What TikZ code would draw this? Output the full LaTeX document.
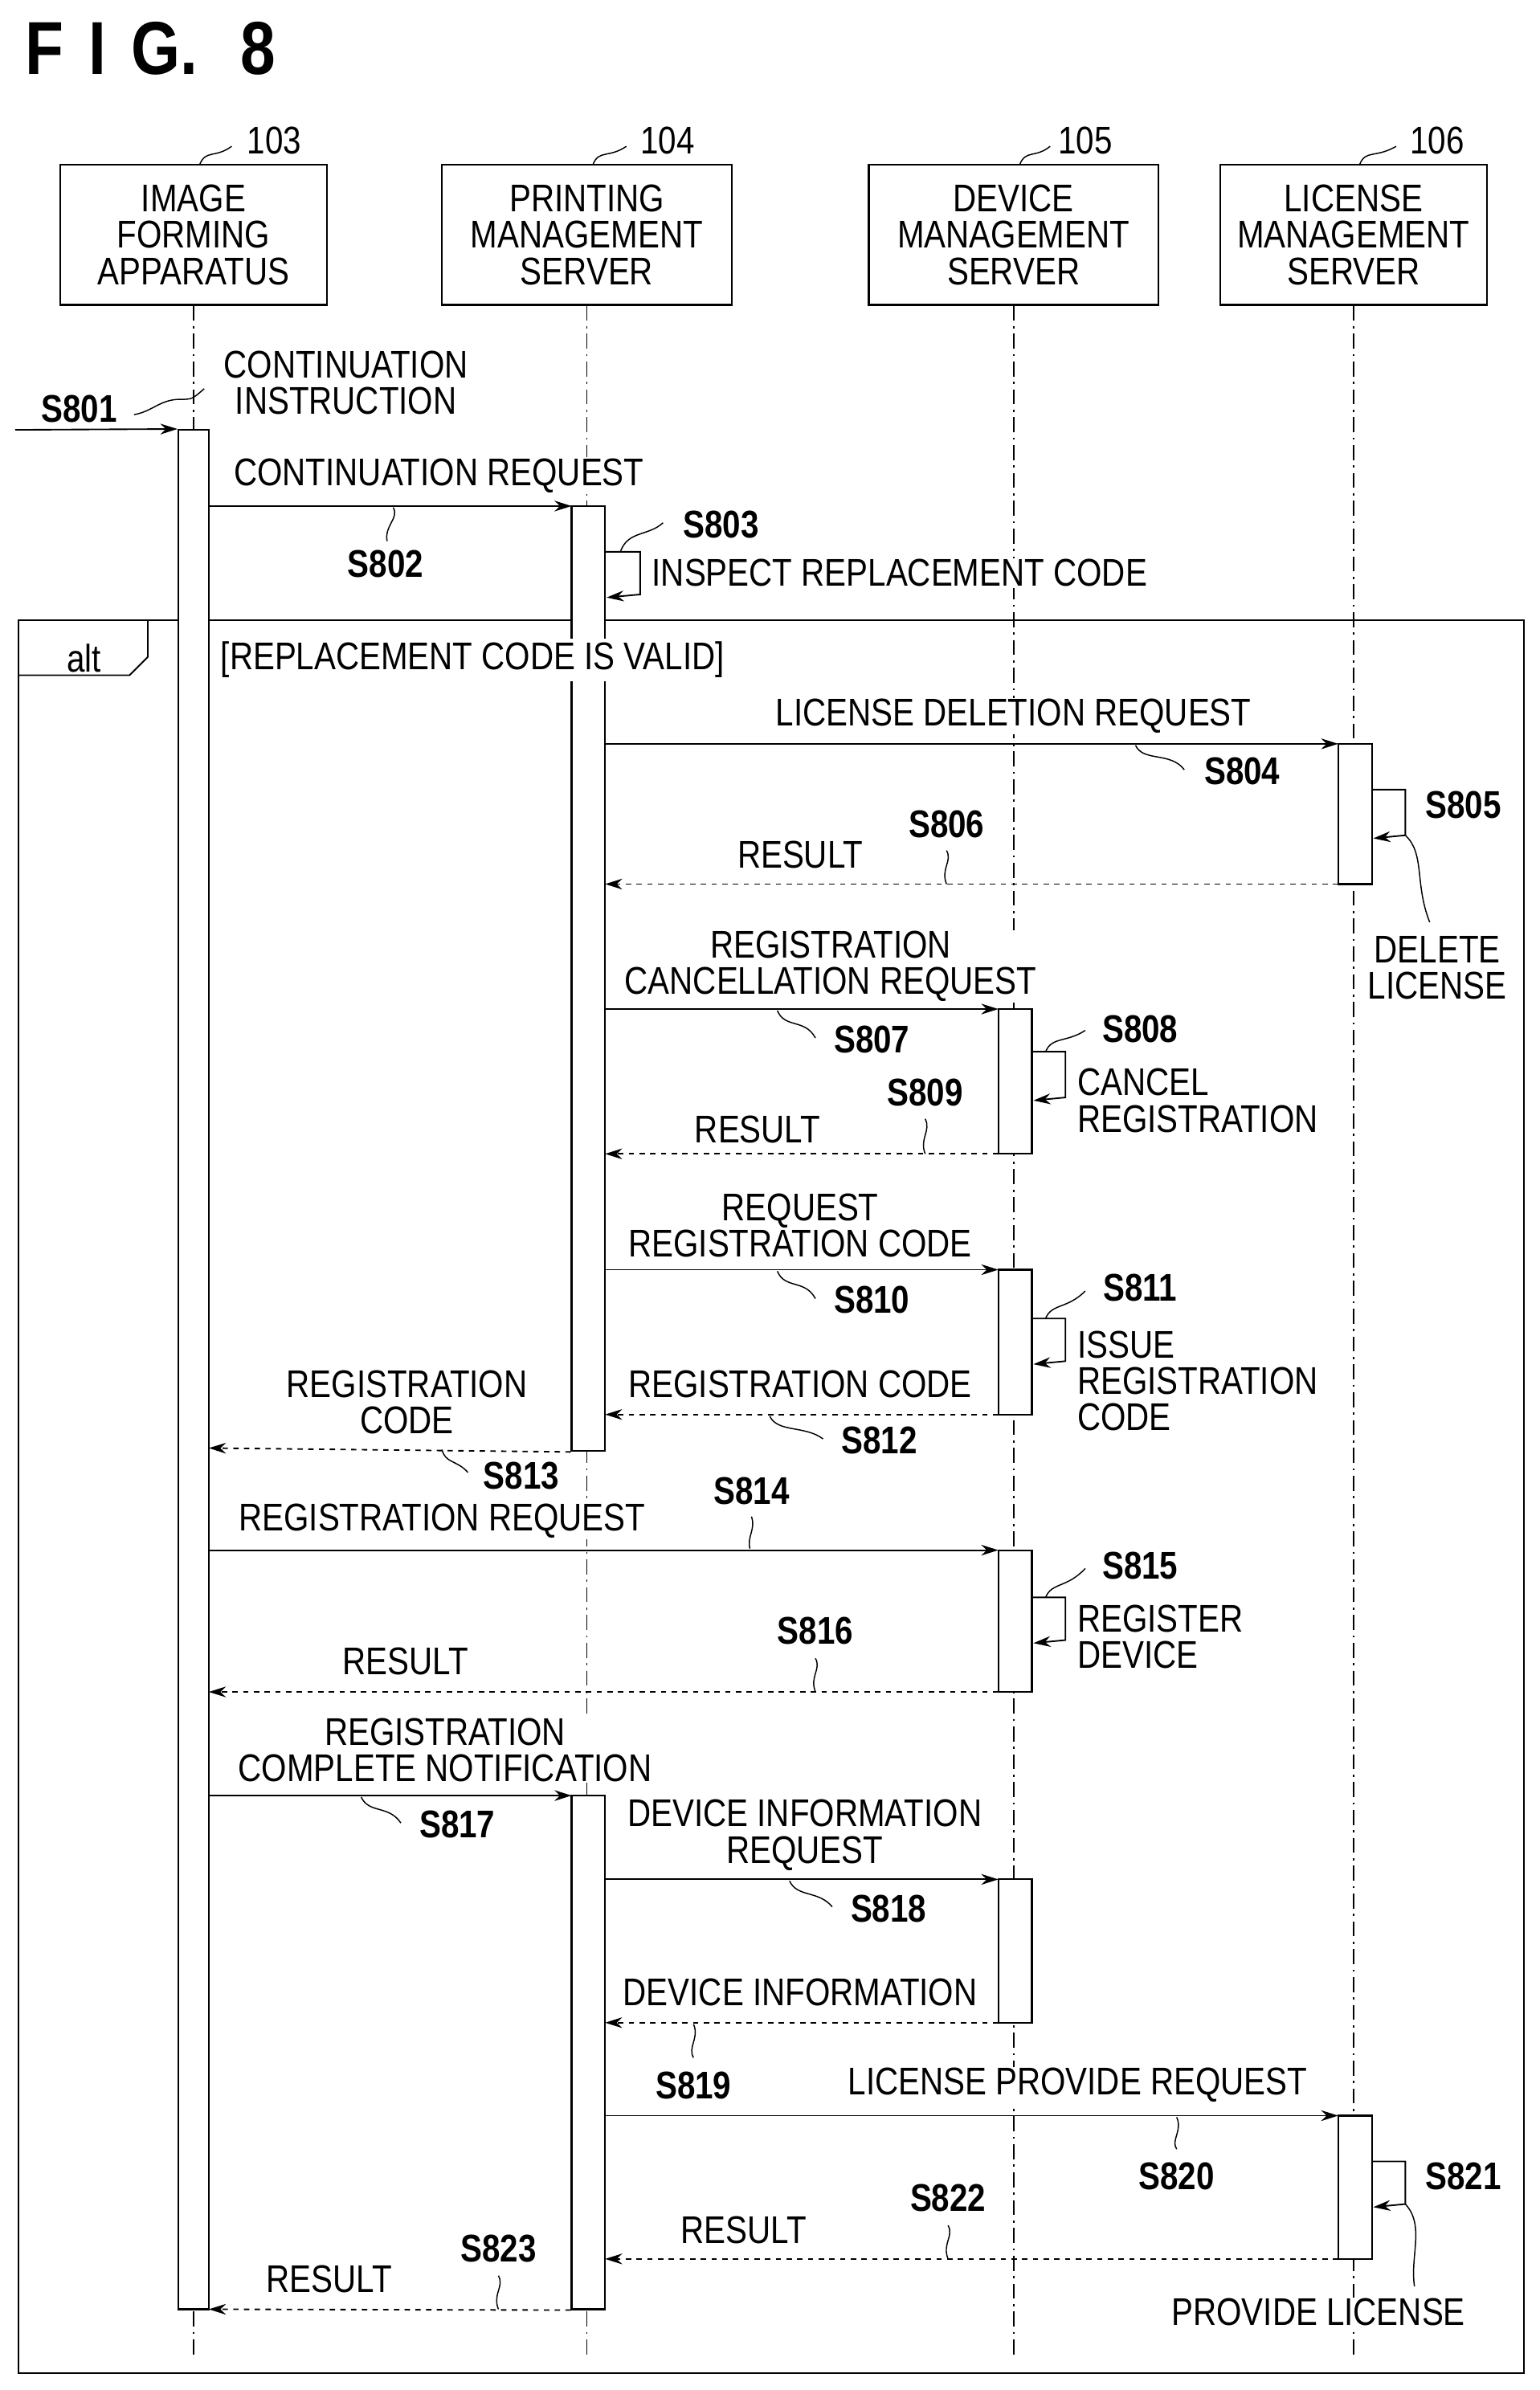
\documentclass[tikz,border=0pt]{standalone}
\usepackage{fontspec}
\setmainfont{Liberation Sans}[FakeStretch=0.84]
\usetikzlibrary{arrows.meta}
\begin{document}
\begin{tikzpicture}[x=0.5mm,y=-0.5mm,
  every node/.style={font=\fontsize{36}{38}\selectfont, inner sep=1pt, align=center},
  txt/.style={fill=white},
  box/.style={draw, line width=1.6pt, fill=white},
  bar/.style={draw, line width=1.6pt, fill=white, inner sep=0pt},
  life/.style={line width=1.2pt, dash pattern=on 14pt off 5pt on 2pt off 5pt},
  msg/.style={line width=1.4pt, -{Stealth[length=16pt,width=10pt]}},
  ret/.style={msg, dash pattern=on 5pt off 5pt},
  lead/.style={line width=1.1pt},
  lbl/.style={fill=white, font=\bfseries\fontsize{36}{38}\selectfont},
  tag/.style={fill=white, font=\fontsize{36}{38}\selectfont}]
\useasboundingbox (0,0) rectangle (1010,1568);
\node[anchor=west, font=\bfseries\fontsize{70}{72}\selectfont] (title) at (16,32) {F\,\,I\,\,G.\,\, 8};
% lifeline heads
\node[box, minimum width=175*0.5mm, minimum height=92*0.5mm] (h103) at (127,154) {IMAGE\\[-4pt]FORMING\\[-4pt]APPARATUS};
\node[box, minimum width=190*0.5mm, minimum height=92*0.5mm] (h104) at (385,154) {PRINTING\\[-4pt]MANAGEMENT\\[-4pt]SERVER};
\node[box, minimum width=190*0.5mm, minimum height=92*0.5mm] (h105) at (665,154) {DEVICE\\[-4pt]MANAGEMENT\\[-4pt]SERVER};
\node[box, minimum width=175*0.5mm, minimum height=92*0.5mm] (h106) at (888,154) {LICENSE\\[-4pt]MANAGEMENT\\[-4pt]SERVER};
\node[tag] (n103) at (180,92) {103};
\node[tag] (n104) at (438,92) {104};
\node[tag] (n105) at (712,92) {105};
\node[tag] (n106) at (943,92) {106};
\foreach \a/\b in {127/152,385/411,665/689,888/916}{
  \draw[lead] (\a+4,108) .. controls (\a+8,98) and (\a+14,104) .. (\b,96);}
% lifelines
\foreach \n/\x in {103/127,104/385,105/665,106/888}{
  \coordinate (e\n) at (\x,1545);
  \draw[life] (h\n.south) -- (e\n);}
% alt frame
\draw[line width=1.6pt] (12,407) rectangle (1000,1557);
\draw[line width=1.4pt] (12,443) -- (85,443) -- (97,431) -- (97,407);
% activation bars
\node[bar, minimum width=20*0.5mm, minimum height=1233*0.5mm] (a103) at (127,898.5) {};
\node[bar, minimum width=22*0.5mm, minimum height=620*0.5mm] (a104) at (386,642) {};
\node[bar, minimum width=22*0.5mm, minimum height=337*0.5mm] (b104) at (386,1346.5) {};
\node[bar, minimum width=22*0.5mm, minimum height=95*0.5mm] (a105) at (666,709.5) {};
\node[bar, minimum width=22*0.5mm, minimum height=95*0.5mm] (b105) at (666,880.5) {};
\node[bar, minimum width=22*0.5mm, minimum height=93*0.5mm] (c105) at (666,1063.5) {};
\node[bar, minimum width=22*0.5mm, minimum height=94*0.5mm] (d105) at (666,1280) {};
\node[bar, minimum width=22*0.5mm, minimum height=92*0.5mm] (a106) at (889,534) {};
\node[bar, minimum width=22*0.5mm, minimum height=94*0.5mm] (b106) at (889,1435) {};
\node[txt] (alt) at (55,432) {alt};
\node[txt, inner sep=3pt] (guard) at (310,433) {[REPLACEMENT CODE IS VALID]};
% S801
\coordinate (start) at (10,282);
\draw[msg] (start) -- (a103.north west);
\node[lbl] (s801) at (52,268) {S801};
\draw[lead] (88,272) .. controls (100,270) and (105,262) .. (118,262) .. controls (126,262) .. (134,255);
\node[txt, anchor=west] (ci) at (146,251) {CONTINUATION\\[-4pt]INSTRUCTION};
% S802
\draw[msg] (137,332) -- (375,332);
\node[txt] (t802) at (288,312) {CONTINUATION REQUEST};
\node[lbl] (s802) at (253,370) {S802};
\draw[lead] (258,333) .. controls (262,340) and (252,345) .. (254,355);
% S803 loop
\draw[msg] (397,362) -- (420,362) -- (420,390) -- (398,392);
\node[lbl] (s803) at (473,344) {S803};
\draw[lead] (407,362) .. controls (412,348) and (425,352) .. (435,343);
\node[txt, anchor=west] (t803) at (427,376) {INSPECT REPLACEMENT CODE};
% S804
\draw[msg] (397,488) -- (878,488);
\node[txt] (t804) at (665,470) {LICENSE DELETION REQUEST};
\node[lbl] (s804) at (815,506) {S804};
\draw[lead] (745,489) .. controls (750,500) and (768,493) .. (777,505);
% S805
\draw[msg] (900,518) -- (922,518) -- (922,548) -- (901,550);
\node[lbl] (s805) at (960,528) {S805};
\node[txt] (t805) at (943,635) {DELETE\\[-4pt]LICENSE};
\draw[lead] (922,548) .. controls (935,560) and (928,580) .. (938,605);
% S806
\draw[ret] (878,580) -- (397,580);
\node[txt] (t806) at (525,561) {RESULT};
\node[lbl] (s806) at (621,541) {S806};
\draw[lead] (621,558) .. controls (625,565) and (617,570) .. (621,580);
% S807
\draw[msg] (397,662) -- (655,662);
\node[txt] (t807) at (545,634) {REGISTRATION\\[-4pt]CANCELLATION REQUEST};
\node[lbl] (s807) at (572,682) {S807};
\draw[lead] (510,663) .. controls (515,675) and (528,668) .. (535,681);
% S808
\draw[msg] (677,690) -- (699,690) -- (699,720) -- (678,722);
\node[lbl] (s808) at (748,675) {S808};
\draw[lead] (686,690) .. controls (690,680) and (700,684) .. (712,676);
\node[txt, anchor=west, align=left] (t808) at (706,722) {CANCEL\\[-4pt]REGISTRATION};
% S809
\draw[ret] (655,757) -- (397,757);
\node[txt] (t809) at (497,741) {RESULT};
\node[lbl] (s809) at (607,717) {S809};
\draw[lead] (607,734) .. controls (611,742) and (603,747) .. (607,757);
% S810
\draw[msg] (397,833) -- (655,833);
\node[txt] (t810) at (525,804) {REQUEST\\[-4pt]REGISTRATION CODE};
\node[lbl] (s810) at (572,853) {S810};
\draw[lead] (510,834) .. controls (515,846) and (528,839) .. (535,852);
% S811
\draw[msg] (677,865) -- (699,865) -- (699,893) -- (678,895);
\node[lbl] (s811) at (748,845) {S811};
\draw[lead] (686,865) .. controls (690,855) and (700,859) .. (712,847);
\node[txt, anchor=west, align=left] (t811) at (706,906) {ISSUE\\[-4pt]REGISTRATION\\[-4pt]CODE};
% S812
\draw[ret] (655,928) -- (397,928);
\node[txt] (t812) at (525,908) {REGISTRATION CODE};
\node[lbl] (s812) at (577,945) {S812};
\draw[lead] (505,929) .. controls (510,940) and (528,935) .. (540,944);
% S813
\draw[ret] (a104.south west) -- (137,950);
\node[txt] (t813) at (267,920) {REGISTRATION\\[-4pt]CODE};
\node[lbl] (s813) at (342,968) {S813};
\draw[lead] (290,951) .. controls (292,960) and (300,958) .. (307,966);
% S814
\draw[msg] (137,1017) -- (655,1017);
\node[txt] (t814) at (290,998) {REGISTRATION REQUEST};
\node[lbl] (s814) at (493,978) {S814};
\draw[lead] (493,995) .. controls (496,1003) and (490,1008) .. (492,1016);
% S815
\draw[msg] (677,1048) -- (699,1048) -- (699,1076) -- (678,1078);
\node[lbl] (s815) at (748,1027) {S815};
\draw[lead] (686,1048) .. controls (690,1038) and (700,1042) .. (712,1029);
\node[txt, anchor=west, align=left] (t815) at (706,1074) {REGISTER\\[-4pt]DEVICE};
% S816
\draw[ret] (655,1110) -- (137,1110);
\node[txt] (t816) at (266,1090) {RESULT};
\node[lbl] (s816) at (535,1070) {S816};
\draw[lead] (535,1088) .. controls (539,1095) and (531,1100) .. (535,1110);
% S817
\draw[msg] (137,1178) -- (375,1178);
\node[txt] (t817) at (292,1148) {REGISTRATION\\[-4pt]COMPLETE NOTIFICATION};
\node[lbl] (s817) at (300,1197) {S817};
\draw[lead] (237,1179) .. controls (242,1190) and (255,1184) .. (263,1196);
% S818
\draw[msg] (397,1233) -- (655,1233);
\node[txt] (t818) at (528,1204) {DEVICE INFORMATION\\[-4pt]REQUEST};
\node[lbl] (s818) at (583,1252) {S818};
\draw[lead] (518,1234) .. controls (523,1245) and (537,1240) .. (546,1251);
% S819
\draw[ret] (655,1327) -- (397,1327);
\node[txt] (t819) at (525,1307) {DEVICE INFORMATION};
\node[lbl] (s819) at (455,1368) {S819};
\draw[lead] (455,1328) .. controls (459,1337) and (451,1343) .. (455,1350);
% S820
\draw[msg] (397,1388) -- (878,1388);
\node[txt] (t820) at (707,1368) {LICENSE PROVIDE REQUEST};
\node[lbl] (s820) at (772,1428) {S820};
\draw[lead] (772,1389) .. controls (776,1398) and (768,1404) .. (772,1410);
% S821
\draw[msg] (900,1418) -- (922,1418) -- (922,1446) -- (901,1448);
\node[lbl] (s821) at (960,1428) {S821};
\node[txt] (t821) at (865,1517) {PROVIDE LICENSE};
\draw[lead] (922,1446) .. controls (935,1460) and (925,1480) .. (928,1500);
% S822
\draw[ret] (878,1482) -- (397,1482);
\node[txt] (t822) at (488,1463) {RESULT};
\node[lbl] (s822) at (622,1442) {S822};
\draw[lead] (622,1460) .. controls (626,1467) and (618,1472) .. (622,1482);
% S823
\draw[ret] (b104.south west) -- (137,1515);
\node[txt] (t823) at (216,1495) {RESULT};
\node[lbl] (s823) at (327,1475) {S823};
\draw[lead] (327,1493) .. controls (331,1500) and (323,1505) .. (327,1515);
\end{tikzpicture}
\end{document}
